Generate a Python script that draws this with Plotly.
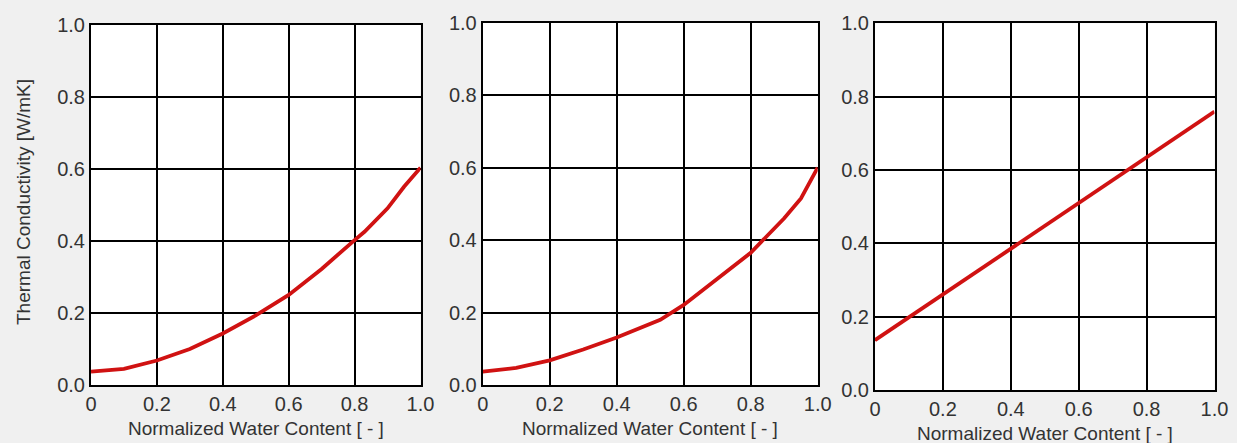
import plotly.graph_objects as go

# Panel 1
x1 = [0.0, 0.05, 0.1, 0.2, 0.3, 0.4, 0.5, 0.6, 0.7, 0.8, 0.83, 0.9, 0.95, 1.0]
y1 = [0.037, 0.040, 0.045, 0.068, 0.100, 0.143, 0.193, 0.250, 0.322, 0.402, 0.425, 0.490, 0.550, 0.603]
# Panel 2
x2 = [0.0, 0.1, 0.2, 0.3, 0.4, 0.53, 0.6, 0.7, 0.8, 0.9, 0.95, 1.0]
y2 = [0.037, 0.047, 0.068, 0.098, 0.131, 0.180, 0.221, 0.294, 0.365, 0.460, 0.515, 0.600]
# Panel 3
x3 = [0.0, 1.0]
y3 = [0.136, 0.759]

x_ticks = [0, 0.2, 0.4, 0.6, 0.8, 1.0]
x_ticklabels = ["0", "0.2", "0.4", "0.6", "0.8", "1.0"]
y_ticks = [0, 0.2, 0.4, 0.6, 0.8, 1.0]
y_ticklabels = ["0.0", "0.2", "0.4", "0.6", "0.8", "1.0"]

x_title = "Normalized Water Content [ - ]"
y_title = "Thermal Conductivity [W/mK]"

W, H = 1237, 443
FONT = "Liberation Sans Narrow, Arial Narrow, sans-serif"
TXT = "#333333"
RED = "rgb(208,18,18)"
BG = "#f0f0f0"

# pixel boxes in page coords (left, right, top, bottom, x-title centre y)
boxes = [(91, 420.5, 24.5, 385, 428), (482.7, 817.7, 22.7, 385, 428), (875, 1214.5, 23.3, 390, 433)]


def px(v):
    return v / W


def py(v):
    return 1 - v / H


fig = go.Figure()
data = [(x1, y1), (x2, y2), (x3, y3)]
for i, ((xs, ys), (l, r, t, b, ty)) in enumerate(zip(data, boxes)):
    n = "" if i == 0 else str(i + 1)
    fig.add_trace(go.Scatter(x=xs, y=ys, mode="lines",
                             line=dict(color=RED, width=3.8),
                             xaxis="x" + n, yaxis="y" + n, showlegend=False,
                             hoverinfo="skip"))
    common = dict(showline=True, mirror=True, linecolor="black", linewidth=2,
                  showgrid=True, gridcolor="black", gridwidth=1.5,
                  zeroline=False, range=[0, 1], fixedrange=True, automargin=False,
                  tickfont=dict(family=FONT, size=20, color=TXT), ticks="")
    fig.update_layout(**{
        "xaxis" + n: dict(domain=[px(l), px(r)], anchor="y" + n,
                          tickvals=x_ticks, ticktext=x_ticklabels, **common),
        "yaxis" + n: dict(domain=[py(b), py(t)], anchor="x" + n,
                          tickvals=y_ticks, ticktext=y_ticklabels, **common),
    })
    fig.add_annotation(text=x_title, xref="paper", yref="paper",
                       x=px((l + r) / 2), y=py(ty), showarrow=False,
                       font=dict(family=FONT, size=19, color=TXT),
                       xanchor="center", yanchor="middle")

fig.add_annotation(text=y_title, xref="paper", yref="paper",
                   x=px(23), y=py(202), showarrow=False, textangle=-90,
                   font=dict(family=FONT, size=19, color=TXT),
                   xanchor="center", yanchor="middle")

fig.update_layout(width=W, height=H, margin=dict(l=0, r=0, t=0, b=0, autoexpand=False),
                  paper_bgcolor=BG, plot_bgcolor="white")

fig.write_html("out.html", config={"displayModeBar": False},
               post_script="document.body.style.margin='0';document.body.style.background='%s';document.body.style.overflow='hidden';" % BG)
